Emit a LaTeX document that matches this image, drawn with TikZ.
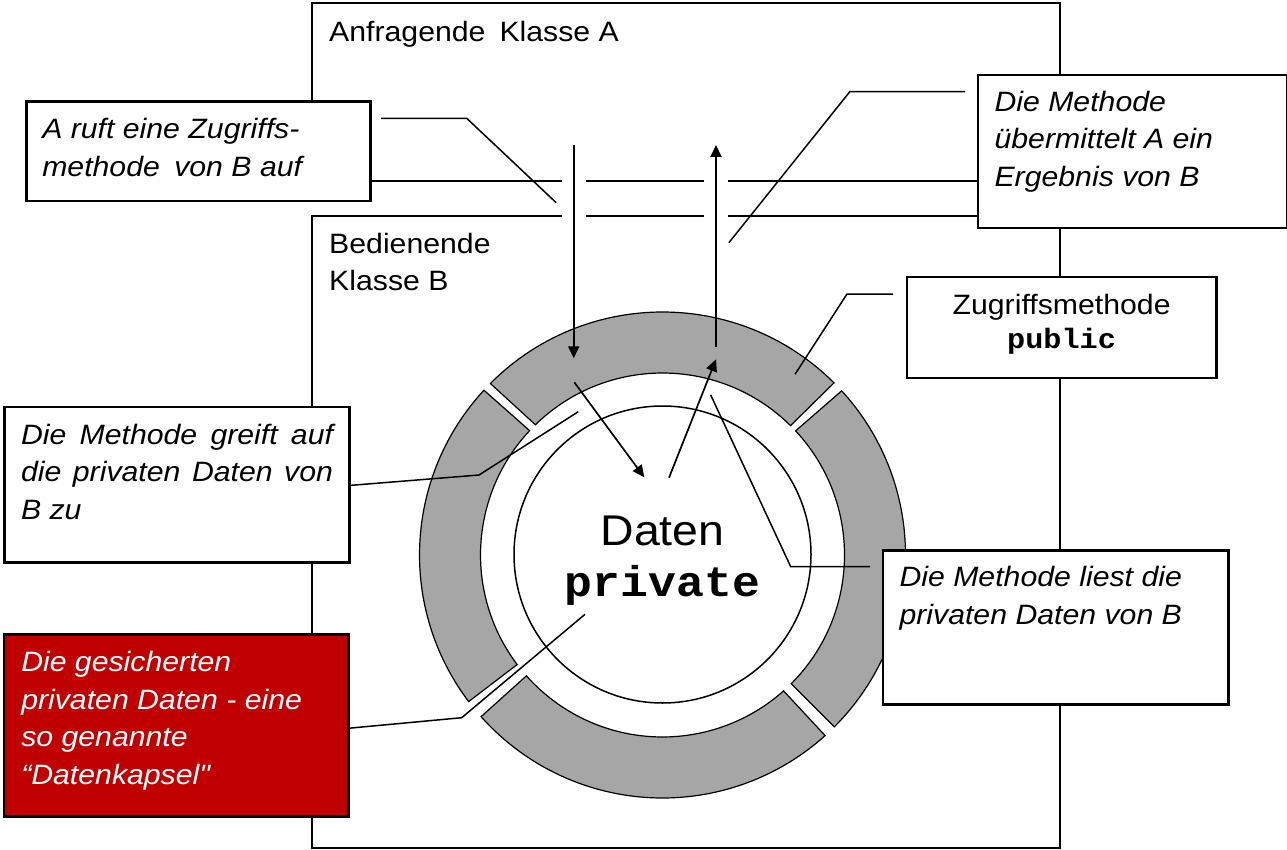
\documentclass[tikz,border=0pt]{standalone}
\usepackage{fontspec}
\setmainfont{Liberation Sans}[FakeStretch=1.08]
\setmonofont{Liberation Mono}[FakeStretch=1.08]
\newfontfamily\plainsans{Liberation Sans}[FakeStretch=1.08]
\usetikzlibrary{arrows.meta}
\definecolor{ringgray}{RGB}{166,166,166}
\definecolor{kapselred}{RGB}{192,0,0}
\newcommand\boxfont{\fontsize{28}{37.5}\selectfont}
\begin{document}
\begin{tikzpicture}[x=1pt,y=-1pt,
  classline/.style={line width=2pt},
  note/.style={draw, line width=2.5pt, fill=white, inner xsep=16pt, inner ysep=11pt, anchor=north west, font=\boxfont},
  leader/.style={line width=1.5pt},
  arr/.style={line width=2pt, -{Triangle[length=12pt,width=11pt]}},
  seg/.style={fill=ringgray, draw=black, line width=1.2pt},
  label/.style={inner sep=0pt, font=\fontsize{28}{37}\selectfont}
]
\useasboundingbox (0,0) rectangle (1287,850);

% Class A (requesting) and class B (serving)
\draw[classline] (562,181) -- (312,181) -- (312,3) -- (1060,3) -- (1060,181) -- (728,181);
\draw[classline] (586,181) -- (704,181);
\draw[classline] (562,216) -- (312,216) -- (312,848) -- (1060,848) -- (1060,216) -- (728,216);
\draw[classline] (586,216) -- (704,216);

\node[label, anchor=base west] (labA) at (329,41.7) {Anfragende\hspace{14pt}Klasse A};
\node[label, anchor=north west] (labB) at (329,227.4) {\parbox[t]{200pt}{\strut Bedienende\\Klasse B}};

% ring of access methods
\begin{scope}[shift={(662.5,555)}, yscale=-1]
  \draw[seg] (45.1:243) arc[start angle=45.1, end angle=135.1, radius=243]
     -- (134.3:182) arc[start angle=134.3, end angle=45.3, radius=182] -- cycle;
  \draw[seg] (-45:243) arc[start angle=-45, end angle=42.5, radius=243]
     -- (43:182) arc[start angle=43, end angle=-45, radius=182] -- cycle;
  \draw[seg] (137.3:243) arc[start angle=137.3, end angle=217.1, radius=243]
     -- (217:182) arc[start angle=217, end angle=136.9, radius=182] -- cycle;
  \draw[seg] (221.7:243) arc[start angle=221.7, end angle=312, radius=243]
     -- (311.7:182) arc[start angle=311.7, end angle=221.6, radius=182] -- cycle;
\end{scope}

% private data
\node[circle, draw, line width=1.5pt, minimum size=297pt, inner sep=0pt, align=center,
      font=\fontsize{43}{49.3}\selectfont] (data) at (662.5,554.5)
      {\rule{0pt}{39pt}\raisebox{-3pt}{Daten}\\[5pt]{\ttfamily\bfseries private}};

% boxes
\node[note, font=\boxfont\itshape] (boxA) at (25,100.5)
  {\parbox[c][77.5pt][t]{312pt}{\raggedright\strut A ruft eine Zugriffs-\\methode\hspace{6pt} von B auf}};
\node[note, font=\boxfont\itshape, inner xsep=16.6pt, inner ysep=10pt] (boxErg) at (976.7,74)
  {\parbox[c][132.7pt][t]{276.1pt}{\raggedright\strut Die Methode\\übermittelt A ein\\Ergebnis von B}};
\node[note] (boxPub) at (905.7,275.7)
  {\parbox[c][79pt][t]{277.3pt}{\centering\strut Zugriffsmethode\\[-3pt]{\ttfamily\bfseries public}}};
\node[note, font=\boxfont\itshape, inner xsep=16.5pt] (boxGreift) at (3.3,405.7)
  {\parbox[c][133.3pt][t]{312pt}{\strut Die Methode greift auf\linebreak die privaten Daten von\linebreak B zu}};
\node[note, font=\boxfont\itshape, inner xsep=16.6pt, inner ysep=10pt] (boxLiest) at (881.7,549)
  {\parbox[c][134.3pt][t]{312.4pt}{\raggedright\strut Die Methode liest die\\privaten Daten von B}};
\node[note, font=\boxfont\itshape, fill=kapselred, text=white, inner xsep=17.3pt] (boxRed) at (2.7,633.3)
  {\parbox[c][159.7pt][t]{310pt}{\raggedright\strut Die gesicherten\\privaten Daten - eine\\so genannte\\“Datenkapsel{\plainsans\itshape"}}};

% leader lines
\coordinate (lA1) at (381,118.3);   \coordinate (lA2) at (466.7,118.3); \coordinate (lA3) at (556.2,202.7);
\coordinate (lE1) at (965,91.7);    \coordinate (lE2) at (849.8,91.7);  \coordinate (lE3) at (728.9,242.7);
\coordinate (lP1) at (893,294);     \coordinate (lP2) at (847,294);     \coordinate (lP3) at (795,374.3);
\coordinate (lG1) at (349,485.5);   \coordinate (lG2) at (479,475);     \coordinate (lG3) at (578.3,411.7);
\coordinate (lL1) at (870,566.7);   \coordinate (lL2) at (790.7,566.7); \coordinate (lL3) at (710.7,395);
\coordinate (lR1) at (348,728.3);   \coordinate (lR2) at (461.7,717.7); \coordinate (lR3) at (585,614.3);
\draw[leader] (lA1) -- (lA2) -- (lA3);
\draw[leader] (lE1) -- (lE2) -- (lE3);
\draw[leader] (lP1) -- (lP2) -- (lP3);
\draw[leader] (lG1) -- (lG2) -- (lG3);
\draw[leader] (lL1) -- (lL2) -- (lL3);
\draw[leader] (lR1) -- (lR2) -- (lR3);

% call and return arrows
\coordinate (callS) at (573.7,145);   \coordinate (callE) at (573.7,358.3);
\coordinate (retS) at (716,346.7);    \coordinate (retE) at (716,145);
\coordinate (readS) at (574.3,382.3); \coordinate (readE) at (644.3,477.3);
\coordinate (backS) at (669,477.7);   \coordinate (backE) at (716,359.3);
\draw[arr] (callS) -- (callE);
\draw[arr] (retS) -- (retE);
\draw[arr, line width=1.7pt] (readS) -- (readE);
\draw[arr, line width=1.7pt] (backS) -- (backE);
\end{tikzpicture}
\end{document}
